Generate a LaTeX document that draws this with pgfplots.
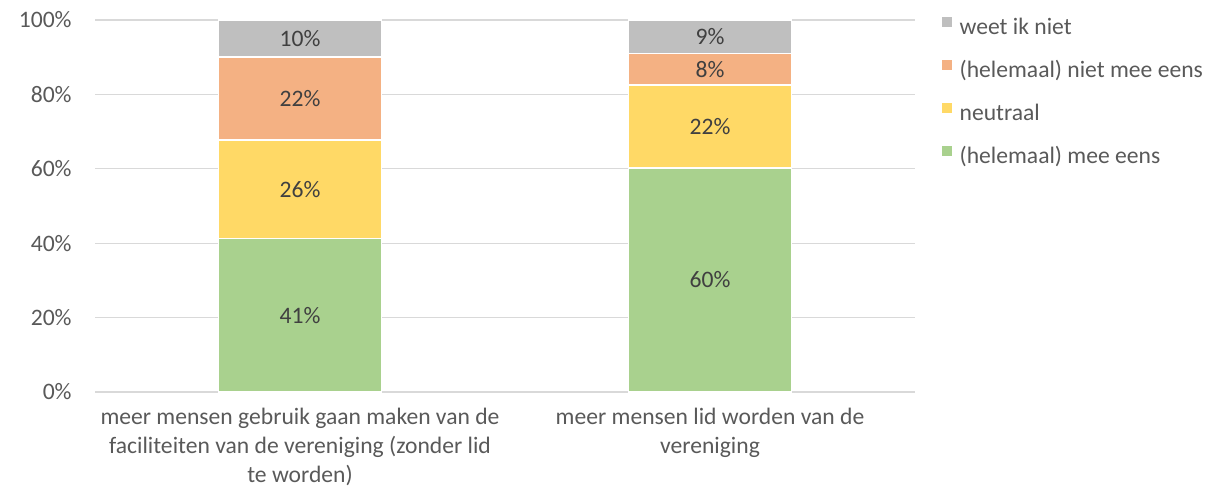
\documentclass[border=0pt]{standalone}
\usepackage{fontspec}
\setmainfont{Carlito}
\usepackage{pgfplots}
\pgfplotsset{compat=1.18}
\definecolor{cgreen}{HTML}{A9D18E}
\definecolor{cyellow}{HTML}{FFD966}
\definecolor{corange}{HTML}{F4B183}
\definecolor{cgray}{HTML}{BFBFBF}
\definecolor{gridc}{HTML}{D9D9D9}
\definecolor{tickc}{HTML}{595959}
\definecolor{lblc}{HTML}{404040}

% share of answers per statement (x = statement)
\pgfplotstableread{
x  mee   neutraal niet  weet
0  41.3  26.4     22.3  10.0
1  60.2  22.3     8.5   9.0
}\shares

% label positions (middle of each segment) and printed value
\pgfplotstableread{
x  y      lbl
0  20.65  41
0  54.5   26
0  78.85  22
0  95.0   10
1  30.1   60
1  71.35  22
1  86.75  8
1  95.5   9
}\labels

\begin{document}
\fontsize{11.8}{14.5}\selectfont
\begin{tikzpicture}
\path[use as bounding box] (0,0) rectangle (614.5pt,246pt);
\begin{axis}[
  at={(47.5pt,50pt)}, anchor=south west,
  scale only axis, width=410pt, height=186pt,
  ybar stacked, bar width=81.5pt,
  xmin=-0.5, xmax=1.5, ymin=0, ymax=100,
  xtick={0,1},
  xticklabels={{meer mensen gebruik gaan maken van de\\faciliteiten van de vereniging (zonder lid\\te worden)},
               {meer mensen lid worden van de\\vereniging}},
  ytick={0,20,...,100},
  yticklabels={0\%,20\%,40\%,60\%,80\%,100\%},
  axis line style={draw=none},
  tick style={draw=none},
  major tick length=0pt,
  ymajorgrids, grid style={gridc, line width=0.6pt},
  xticklabel style={align=center, anchor=north, inner sep=0pt, yshift=-7.7pt, text=tickc},
  yticklabel style={anchor=east, inner sep=0pt, xshift=-11.5pt, text=tickc},
  reverse legend,
  legend style={at={(1.032,1.008)}, anchor=north west, draw=none, fill=none,
    inner sep=0pt, row sep=10.5pt, column sep=4pt,
    nodes={inner sep=0pt, text height=8pt, text depth=2.5pt, text=tickc}},
  legend cell align=left,
  legend image code/.code={\fill[#1, draw=none] (0pt,0.7pt) rectangle (5pt,5.7pt);},
]
\addplot[fill=cgreen, draw=white, line width=0.75pt] table[x=x, y=mee] {\shares};
\addlegendentry{(helemaal) mee eens}
\addplot[fill=cyellow, draw=white, line width=0.75pt] table[x=x, y=neutraal] {\shares};
\addlegendentry{neutraal}
\addplot[fill=corange, draw=white, line width=0.75pt] table[x=x, y=niet] {\shares};
\addlegendentry{(helemaal) niet mee eens}
\addplot[fill=cgray, draw=white, line width=0.75pt] table[x=x, y=weet] {\shares};
\addlegendentry{weet ik niet}
\end{axis}
\begin{axis}[
  at={(47.5pt,50pt)}, anchor=south west,
  scale only axis, width=410pt, height=186pt,
  xmin=-0.5, xmax=1.5, ymin=0, ymax=100,
  hide axis,
  nodes near coords={\pgfplotspointmeta\%},
  point meta=explicit symbolic,
  nodes near coords style={anchor=center, inner sep=0pt, text=lblc},
]
\addplot[draw=none] table[x=x, y=y, meta=lbl] {\labels};
\end{axis}
\end{tikzpicture}
\end{document}
